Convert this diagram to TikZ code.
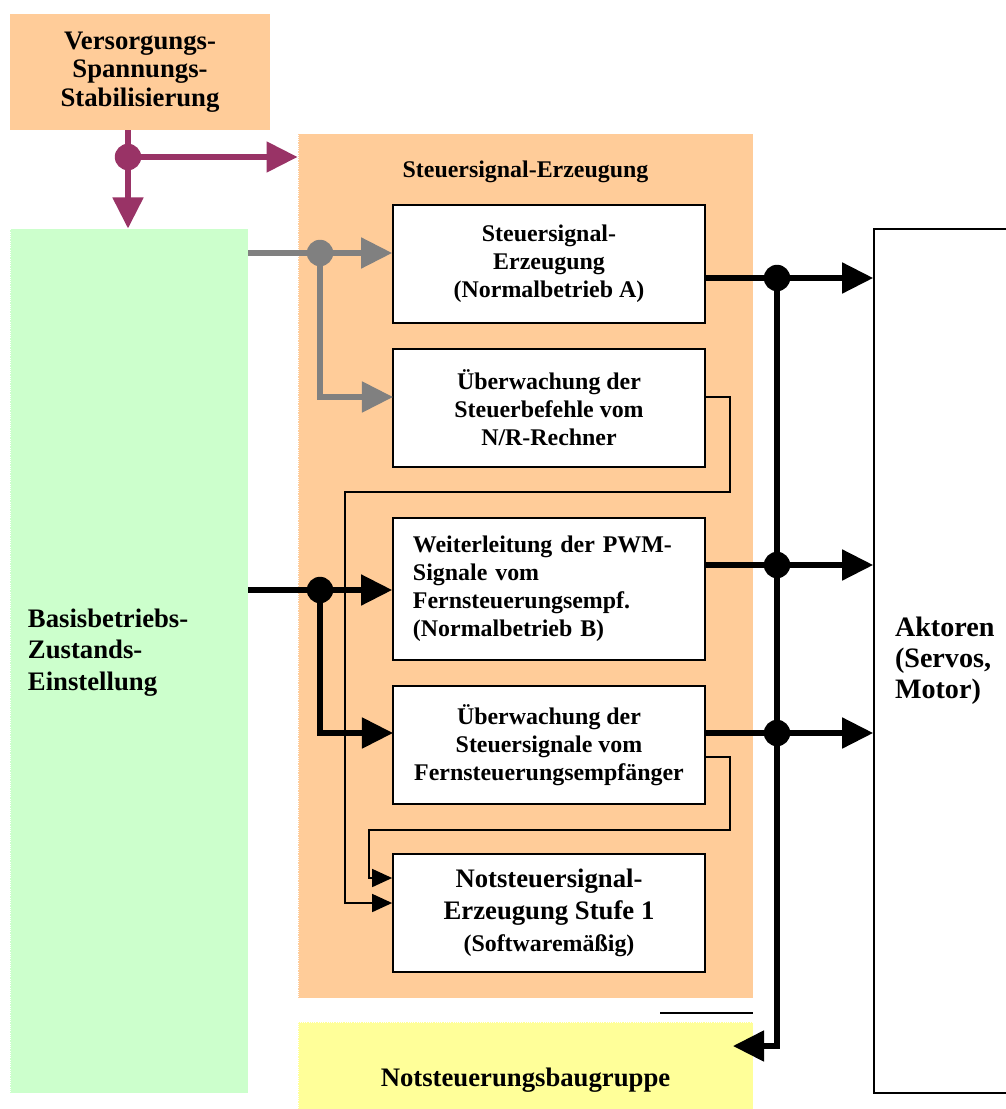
\documentclass[tikz,border=0pt]{standalone}
\usepackage{fontspec}
\setmainfont{Liberation Serif}
\usetikzlibrary{arrows.meta}

\definecolor{peach}{HTML}{FFCC99}
\definecolor{mint}{HTML}{CCFFCC}
\definecolor{lemon}{HTML}{FFFF99}
\definecolor{plum}{HTML}{993366}
\definecolor{wire}{HTML}{808080}

\newcommand{\fsz}[2]{\fontsize{#1}{#2}\selectfont\bfseries}

\tikzset{
  panel/.style={inner sep=0pt, draw=white, densely dotted, line width=0.6pt},
  block/.style={draw, solid, line width=1.2pt, fill=white, minimum width=7.8cm,
    minimum height=2.95cm, align=center, font=\fsz{17}{20}},
  junction/.style={circle, inner sep=0pt, minimum size=0.66cm},
  feed/.style={line width=3.6pt, -{Triangle[length=0.775cm,width=0.75cm]}},
  sig/.style={line width=1.2pt, -{Triangle[length=0.5cm,width=0.45cm]}},
}

\begin{document}
\begin{tikzpicture}[x=0.025cm, y=-0.025cm]
  \useasboundingbox (0,0) rectangle (1005,1109);

  % areas
  \node[fill=peach, minimum width=6.5cm, minimum height=2.9cm, align=center,
    font=\fsz{19}{20.3}] (vs) at (140,72) {Versorgungs-\\Spannungs-\\Stabilisierung};
  \node[panel, fill=peach, minimum width=11.375cm, minimum height=21.6cm,
    label={[anchor=center, yshift=-0.95cm, font=\fsz{17}{20}]north:Steuersignal-Erzeugung}]
    (sse) at (525.5,566) {};
  \node[panel, fill=mint, minimum width=5.95cm, minimum height=21.6cm, align=left,
    text width=5.05cm, inner xsep=0.45cm, text depth=2.14cm, font=\fsz{19}{22.4}]
    (bze) at (129,661) {Basisbetriebs-\\Zustands-\\Einstellung};
  \node[panel, fill=lemon, minimum width=11.375cm, minimum height=2.9cm,
    font=\fsz{19}{22}] (nsb) at (525.5,1080) {Notsteuerungsbaugruppe};
  \node[draw, line width=1.2pt, fill=white, minimum width=3.65cm, minimum height=21.6cm,
    align=left, text width=2.6cm, inner xsep=0.525cm, font=\fsz{20}{22.2}]
    (akt) at (947,661) {Aktoren\\(Servos,\\Motor)};

  % blocks
  \node[block] (boxA) at (549,264) {Steuersignal-\\Erzeugung\\(Normalbetrieb A)};
  \node[block] (boxB) at (549,408) {Überwachung der\\Steuerbefehle vom\\N/R-Rechner};
  \node[block, minimum height=3.55cm, align=left, text width=6.8cm, inner xsep=0.5cm]
    (boxC) at (549,589) {Weiterleitung der PWM-\\Signale vom\\Fernsteuerungsempf.\\(Normalbetrieb B)};
  \node[block] (boxD) at (549,745) {Überwachung der\\Steuersignale vom\\Fernsteuerungsempfänger};
  \node[block, font=\fsz{19}{22.7}] (boxE) at (549,913)
    {Notsteuersignal-\\Erzeugung Stufe 1\\\fsz{17}{21}(Softwaremäßig)};

  % junctions and ends
  \node[junction, fill=plum] (jP) at (128,157) {};
  \node[junction, fill=wire] (jG) at (320,253) {};
  \node[junction, fill=black] (jK) at (320,590) {};
  \node[junction, fill=black] (jR1) at (777,278) {};
  \node[junction, fill=black] (jR2) at (777,565) {};
  \node[junction, fill=black] (jR3) at (777,733) {};
  \coordinate (inB) at (393,397);
  \coordinate (inD) at (393,733);
  \coordinate (inE1) at (345,903);
  \coordinate (inE2) at (369,878);
  \coordinate (loopB) at (730,492);
  \coordinate (loopD) at (730,830);
  \coordinate (outD) at (705,757);
  \coordinate (nsIn) at (733,1046);

  % supply
  \draw[feed, plum] (vs.south -| jP) -- (bze.north -| jP);
  \draw[feed, plum] (jP.center) -- (sse.west |- jP);

  % inputs
  \draw[feed, wire] (bze.east |- jG) -- (boxA.west |- jG);
  \draw[feed, wire] (jG.center) |- (inB);
  \draw[feed] (bze.east |- jK) -- (boxC.west |- jK);
  \draw[feed] (jK.center) |- (inD);

  % feedback to the emergency block
  \draw[sig] (boxB.east |- inB) -| (loopB) -| (inE1) -- (boxE.west |- inE1);
  \draw[sig] (outD) -| (loopD) -| (inE2) -- (boxE.west |- inE2);

  % outputs
  \draw[feed] (boxA.east |- jR1) -- (akt.west |- jR1);
  \draw[feed] (boxC.east |- jR2) -- (akt.west |- jR2);
  \draw[feed] (boxD.east |- jR3) -- (akt.west |- jR3);
  \draw[feed] (jR1.center) -- (jR1.center |- nsIn) -- (nsIn);

  \draw[line width=1pt] (660,1013) -- (nsb.north east |- 0,1013);
\end{tikzpicture}
\end{document}
